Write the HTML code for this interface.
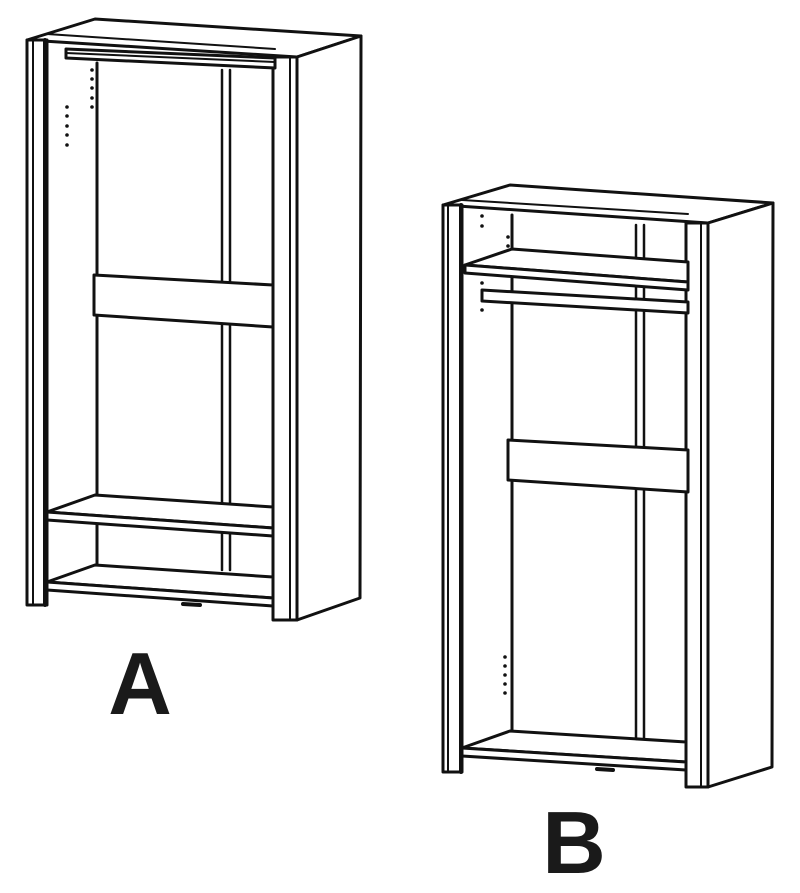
<!DOCTYPE html>
<html><head><style>html,body{margin:0;padding:0;background:#fff}svg{display:block}</style></head>
<body>
<svg width="800" height="893" viewBox="0 0 800 893" xmlns="http://www.w3.org/2000/svg">
<g fill="none" stroke="#111" stroke-width="3" stroke-linejoin="round" stroke-linecap="round">
<!-- Wardrobe A -->
<polygon points="27,40 95,19 361,36 297,57" fill="#fff"/>
<line x1="47" y1="34" x2="275" y2="49" stroke-width="2"/>
<polygon points="297,57 361,36 360,598 297,620" fill="#fff"/>
<rect x="273" y="57" width="24" height="563" fill="#fff"/>
<line x1="290" y1="57" x2="290" y2="620" stroke-width="2"/>
<rect x="27" y="40" width="20" height="565" fill="#fff"/>
<line x1="33" y1="40" x2="33" y2="605" stroke-width="2"/>
<line x1="45" y1="40" x2="45" y2="605" stroke-width="4"/>
<line x1="97" y1="63" x2="97" y2="568"/>
<line x1="222" y1="70" x2="222" y2="570" stroke-width="2.5"/>
<line x1="230" y1="70" x2="230" y2="570" stroke-width="2.5"/>
<polygon points="66,49 275,58 275,68 66,58" fill="#fff"/>
<line x1="66" y1="53" x2="275" y2="62" stroke-width="2"/>
<polygon points="94,275 273,285 273,327 94,315" fill="#fff"/>
<polygon points="47,512 95,495 273,507 273,528" fill="#fff"/>
<polygon points="47,512 273,528 273,536 47,520" fill="#fff"/>
<polygon points="47,582 95,565 273,577 273,598" fill="#fff"/>
<polygon points="47,582 273,598 273,606 47,590" fill="#fff"/>
<line x1="183" y1="604" x2="200" y2="605" stroke-width="4"/>
<!-- Wardrobe B -->
<polygon points="443,205 510,185 773,203 708,223" fill="#fff"/>
<line x1="462" y1="200" x2="688" y2="214" stroke-width="2"/>
<polygon points="708,223 773,203 772,767 708,787" fill="#fff"/>
<rect x="686" y="223" width="22" height="564" fill="#fff"/>
<line x1="701" y1="223" x2="701" y2="787" stroke-width="2"/>
<rect x="443" y="205" width="19" height="567" fill="#fff"/>
<line x1="448" y1="205" x2="448" y2="772" stroke-width="2"/>
<line x1="461" y1="205" x2="461" y2="772" stroke-width="4"/>
<line x1="512" y1="215" x2="512" y2="731"/>
<line x1="636" y1="225" x2="636" y2="740" stroke-width="2.5"/>
<line x1="644" y1="225" x2="644" y2="740" stroke-width="2.5"/>
<polygon points="465,265 512,249 688,262 688,282" fill="#fff"/>
<polygon points="465,265 688,282 688,290 465,273" fill="#fff"/>
<polygon points="482,290 688,302 688,313 482,301" fill="#fff"/>
<polygon points="508,440 688,450 688,492 508,480" fill="#fff"/>
<polygon points="462,748 510,731 686,742 686,762" fill="#fff"/>
<polygon points="462,748 686,762 686,770 462,756" fill="#fff"/>
<line x1="597" y1="769" x2="613" y2="770" stroke-width="4"/>
</g>
<g fill="#111">
<circle cx="92" cy="70" r="1.8"/><circle cx="92" cy="79" r="1.8"/><circle cx="92" cy="88" r="1.8"/><circle cx="92" cy="98" r="1.8"/><circle cx="92" cy="107" r="1.8"/>
<circle cx="67" cy="107" r="1.8"/><circle cx="67" cy="116" r="1.8"/><circle cx="67" cy="126" r="1.8"/><circle cx="67" cy="135" r="1.8"/><circle cx="67" cy="145" r="1.8"/>
<circle cx="482" cy="216" r="1.8"/><circle cx="482" cy="226" r="1.8"/><circle cx="508" cy="237" r="1.8"/><circle cx="508" cy="246" r="1.8"/>
<circle cx="482" cy="283" r="1.8"/><circle cx="482" cy="310" r="1.8"/>
<circle cx="505" cy="657" r="1.8"/><circle cx="505" cy="666" r="1.8"/><circle cx="505" cy="675" r="1.8"/><circle cx="505" cy="684" r="1.8"/><circle cx="505" cy="693" r="1.8"/>
</g>
<text x="140" y="714" font-family="Liberation Sans, sans-serif" font-weight="bold" font-size="88" text-anchor="middle" fill="#1a1a1a">A</text>
<text x="574" y="873" font-family="Liberation Sans, sans-serif" font-weight="bold" font-size="88" text-anchor="middle" fill="#1a1a1a">B</text>
</svg>
</body></html>
